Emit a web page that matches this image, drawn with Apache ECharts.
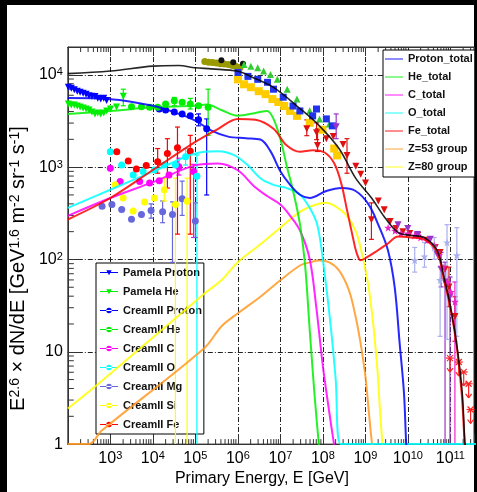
<!DOCTYPE html>
<html>
<head>
<meta charset="utf-8">
<title>Cosmic ray all-particle spectrum</title>
<script src="https://cdn.jsdelivr.net/npm/echarts@6.0.0/dist/echarts.min.js"></script>
<style>
  html, body { margin: 0; padding: 0; background: #000; }
  #paper { position: absolute; left: 7px; top: 5px; width: 467px; height: 487px; background: #fff; }
  #chart { position: absolute; left: 0; top: 0; width: 477px; height: 492px; }
</style>
</head>
<body>
<div id="paper"></div>
<div id="chart"></div>
<script>
// axis ranges (GeV, E^2.6 flux)
const X_MIN = 1e2, X_MAX = 3.6e11, Y_MIN = 1, Y_MAX = 2e4
const xDecades = [1e2, 1e3, 1e4, 1e5, 1e6, 1e7, 1e8, 1e9, 1e10, 1e11]
const yDecades = [1, 10, 100, 1000, 10000]
const minorSteps = [2, 3, 4, 5, 6, 7, 8, 9]

// model curves
const protonTotal = [[1e2, 5590], [1e3, 5450], [1e4, 4620], [4.1e4, 3770], [1e5, 3190], [2.4e5, 2480], [5.9e5, 2140], [1.55e6, 2060], [3.4e6, 1990], [5.9e6, 1480], [1e7, 900], [1.7e7, 643], [2.9e7, 502], [4.9e7, 463], [1.2e8, 551], [2.8e8, 593], [5.9e8, 551], [1.2e9, 393], [2.0e9, 240], [3.4e9, 126], [4.9e9, 50], [6.4e9, 12.5], [8.1e9, 3.6], [9.1e9, 1.06], [9.6e9, 0.8]]
const heTotal = [[1e2, 3770], [1e3, 4060], [1e4, 4440], [9.8e4, 4620], [1.85e5, 4760], [4.1e5, 4160], [1e6, 3610], [2.6e6, 3860], [4.9e6, 4060], [6.9e6, 3330], [1e7, 2030], [1.4e7, 1050], [2.0e7, 551], [2.9e7, 240], [3.8e7, 89.5], [4.9e7, 17.5], [6.4e7, 3.35], [8.1e7, 0.97], [8.6e7, 0.8]]
const cTotal = [[1e2, 297], [1e3, 463], [1e4, 687], [1e5, 1045], [3.45e5, 1097], [1e6, 925], [2.4e6, 622], [4.9e6, 486], [1e7, 393], [1.7e7, 297], [2.9e7, 206], [4.9e7, 101], [7e7, 30.7], [9.8e7, 7.6], [1.42e8, 2.2], [1.85e8, 0.97], [2e8, 0.8]]
const oTotal = [[1e2, 362], [1e3, 569], [1e4, 895], [1e5, 1406], [3.45e5, 1487], [8.2e5, 1348], [1.7e6, 1052], [3.4e6, 758], [6.9e6, 643], [1.42e7, 593], [2.9e7, 503], [4.9e7, 362], [7.5e7, 232], [1.09e8, 73], [1.56e8, 17.5], [2.0e8, 5.1], [2.65e8, 1.0], [1e12, 1.0]]
const feTotal = [[1e2, 271], [1e3, 463], [1e4, 931], [1e5, 1876], [3.45e5, 2600], [1e6, 3330], [2.6e6, 3250], [6.9e6, 2600], [1.4e7, 1725], [2.9e7, 1465], [5.8e7, 1525], [1.1e8, 1440], [1.85e8, 1100], [2.7e8, 671], [3.7e8, 344], [5.1e8, 173], [6.3e8, 116], [7.8e8, 98], [1.07e9, 105], [1.8e9, 122], [3.4e9, 149], [5.9e9, 177], [1.17e10, 173], [2.4e10, 165], [4.9e10, 119], [7e10, 61], [9.8e10, 31.5], [1.4e11, 11.8], [1.86e11, 3.4], [2.2e11, 0.8]]
const z53Group = [[1e2, 1], [3.1e2, 1], [6.4e2, 1.41], [1.64e5, 11.0], [4.1e5, 18.8], [1e6, 26.1], [3.4e6, 39.4], [1e7, 59.4], [2.9e7, 86], [4.9e7, 93], [8.4e7, 97.3], [1.42e8, 93], [2.4e8, 76], [4.1e8, 46.5], [5.9e8, 24], [7.7e8, 12.5], [1e9, 5.5], [1.19e9, 2.41], [1.42e9, 1.06], [1.6e9, 0.8]]
const z80Group = [[1e2, 2.43], [2.4e2, 3.35], [5.6e2, 4.61], [1.64e5, 42.7], [4.1e5, 59.4], [1e6, 93.3], [3.4e6, 146], [1e7, 221], [2.9e7, 328], [7e7, 393], [1.19e8, 410], [2.06e8, 371], [3.45e8, 307], [5.9e8, 204], [8.3e8, 115], [1.19e9, 50.4], [1.55e9, 18.8], [1.92e9, 6.46], [2.2e9, 2.41], [2.5e9, 1.06], [2.7e9, 0.8]]
const allTotal = [[1e2, 10300], [1e3, 11000], [1e4, 12400], [4.1e4, 12600], [9.8e4, 11900], [2.4e5, 11600], [1e6, 10900], [2.0e6, 9600], [6.9e6, 7300], [2.9e7, 4300], [8.3e7, 2800], [2.4e8, 1590], [5.9e8, 760], [1.4e9, 463], [2.9e9, 283], [5.9e9, 196], [1.2e10, 182], [2.4e10, 173], [4.9e10, 125], [7.1e10, 64], [9.8e10, 33], [1.4e11, 12.4], [1.9e11, 3.6], [2.2e11, 1.05], [2.4e11, 0.8]]

// direct measurements [E, flux]; error bars [E, low, high]
const pamelaP = [[103, 7330], [121, 7160], [142, 6900], [167, 6640], [195, 6490], [229, 6320], [269, 6170], [315, 5940], [370, 5870], [434, 5810], [508, 5580], [596, 5460], [700, 5580], [820, 5260]]
const pamelaHe = [[103, 4820], [121, 4700], [142, 4700], [167, 4590], [195, 4480], [229, 4370], [269, 4260], [315, 4160], [370, 3960], [434, 3770], [508, 3860], [596, 3770], [700, 3860], [820, 4060], [1010, 4260], [1400, 4480], [2020, 5870]]
const pamelaHeErr = [[2020, 4620, 6980]]
const creamP = [[1.42e4, 4260], [2.0e4, 4160], [3.2e4, 3960], [4.9e4, 3770], [7.6e4, 3590], [1.19e5, 3250], [1.85e5, 2610]]
const creamPErr = [[1.19e5, 2800, 3770], [1.85e5, 499, 3330]]
const creamHe = [[3.15e3, 4510], [5.4e3, 4510], [8.4e3, 4440], [1.3e4, 4440], [2.0e4, 4820], [3.2e4, 5230], [4.9e4, 5030], [7.6e4, 4820], [1.19e5, 4620], [2.0e5, 4440]]
const creamHeErr = [[3.2e4, 4620, 5690], [7.6e4, 4260, 5550], [2.0e5, 2210, 6980]]
const creamC = [[1e3, 971], [1.7e3, 700], [4.9e3, 700], [8.4e3, 671], [1.42e4, 710], [2.4e4, 823], [4.1e4, 1012], [9.1e4, 895]]
const creamCErr = [[4.1e4, 820, 1250], [9.1e4, 173, 1071]]
const creamO = [[1e3, 1466], [1.85e3, 1053], [3.45e3, 823], [5.9e3, 895], [1.09e4, 931], [1.85e4, 1053], [3.4e4, 1053], [5.9e4, 1295], [1.09e5, 797]]
const creamOErr = [[5.9e4, 1053, 1589], [1.09e5, 0.5, 1353]]
const creamMg = [[640, 378], [1090, 393], [1850, 347], [3150, 272], [5400, 307], [9100, 339], [1.7e4, 328], [2.9e4, 307], [4.9e4, 455], [1e5, 261]]
const creamMgErr = [[9100, 280, 400], [1.7e4, 250, 430], [2.9e4, 93, 420], [4.9e4, 300, 705], [1e5, 173, 410]]
const creamSi = [[1.3e3, 643], [2.0e3, 463], [3.45e3, 334], [6.4e3, 420], [1.09e4, 463], [1.86e4, 569], [3.4e4, 393], [6.4e4, 427]]
const creamSiErr = [[1.86e4, 430, 759], [3.4e4, 0.5, 759], [6.4e4, 0.5, 759]]
const creamFe = [[1.42e3, 1466], [2.64e3, 1162], [4.1e3, 955], [7e3, 1038], [1.3e4, 1145], [2.2e4, 1406], [3.8e4, 1618], [7.6e4, 1487]]
const creamFeErr = [[1.3e4, 859, 1589], [2.2e4, 593, 2032], [3.8e4, 188, 2716], [7.6e4, 188, 2208]]

// air shower data
const oliveDots = [[1.67e5, 13900], [2.06e5, 13700], [2.55e5, 13600], [3.15e5, 13400], [3.9e5, 13200], [4.8e5, 13100], [6.0e5, 12900], [7.4e5, 12600], [9.1e5, 12300], [1.13e6, 12000]]
const blackDots = [[4.1e5, 14400], [7.8e5, 13700], [1.32e6, 13200]]
const greenTri = [[1.40e6, 12900], [2.03e6, 12400], [2.94e6, 11900], [4.05e6, 11000], [5.86e6, 10100], [8.5e6, 8930], [1.45e7, 6980], [2.46e7, 5460], [4.91e7, 4090], [8.36e7, 3330], [1.42e8, 2940]]
const blueSq = [[1.01e6, 10600], [1.73e6, 9610], [2.94e6, 8930], [5.0e6, 8290], [6.9e6, 6980], [1.17e7, 5720], [1.99e7, 4590], [2.88e7, 4060], [5.75e7, 3590], [7.1e7, 4260], [1.21e8, 3330], [1.67e8, 2800]]
const yellowSq = [[1.01e6, 8930], [1.40e6, 7890], [2.03e6, 7330], [3.1e6, 6640], [4.5e6, 6170], [6.5e6, 5460], [8.97e6, 5070], [1.23e7, 4590], [1.70e7, 4060], [2.46e7, 3590], [4.91e7, 3020], [9.8e7, 2540], [1.85e8, 1590], [2.17e8, 1340]]
const redTri = [[4.19e7, 2600], [7.13e7, 2360], [7.5e7, 1711], [1.21e8, 2033], [1.76e8, 2140], [2.99e8, 1754], [3.7e8, 1337], [5.97e8, 1020], [7.78e8, 837], [1.01e9, 671], [1.39e9, 269], [2.02e9, 430], [2.78e9, 345], [3.83e9, 257], [5.26e9, 216], [7.63e9, 200], [1.11e10, 191], [1.69e10, 182], [2.88e10, 161], [4.40e10, 135], [5.74e10, 119], [7.49e10, 78.5], [9.27e10, 50.4], [1.28e11, 24.1]]
const redTriErr = [[4.19e7, 2190, 3250], [7.13e7, 1985, 3020], [7.5e7, 1477, 2600], [3.7e8, 859, 2033], [1.39e9, 165, 410], [9.27e10, 30.8, 82.5], [1.28e11, 13.0, 39.4]]
const purpleTri = [[2.06e8, 2735], [5.86e9, 238], [9.95e9, 216], [1.69e10, 186], [3.38e10, 165], [4.9e10, 114], [6.06e10, 78.5], [7.5e10, 57], [9.8e10, 39.4]]
const purpleErr = [[2.06e8, 2033, 3767], [6.06e10, 50.4, 119], [7.5e10, 0.5, 93.3], [9.8e10, 0.5, 64.5]]
const magStar = [[3.44e9, 221], [5.0e9, 205], [6.88e9, 191], [9.95e9, 191], [1.45e10, 182], [1.99e10, 173], [2.88e10, 161], [4.18e10, 142], [5.45e10, 111], [6.74e10, 82.5], [8.34e10, 57], [1.03e11, 44.5], [1.28e11, 34.8]]
const magErr = [[1.28e11, 0.5, 57]]
const lavender = [[1.45e10, 98], [2.46e10, 108], [4.18e10, 135], [5.74e10, 59.9], [8.34e10, 153], [1.42e11, 111]]
const lavErr = [[1.45e10, 72.9, 135], [2.46e10, 82.5, 153], [4.18e10, 100.5, 173], [5.74e10, 14.7, 82.5], [8.34e10, 13.6, 238], [1.42e11, 14.7, 221]]
const redLimits = [[9.8e10, 8.54], [1.58e11, 7.74], [2.06e11, 6.05], [2.69e11, 4.50], [2.99e11, 2.37]]

const FONT = 'Liberation Sans, Arial, Helvetica, sans-serif'
const xMinor = []
xDecades.forEach(d => minorSteps.forEach(m => { if (d * m < X_MAX) xMinor.push(d * m) }))
const yMinor = []
yDecades.forEach(d => minorSteps.forEach(m => { if (d * m < Y_MAX) yMinor.push(d * m) }))

const triDown = 'path://M0,0L10,0L5,9Z'
const star = 'path://M0,-5L1.2,-1.6L4.8,-1.6L1.9,0.6L2.9,4L0,2L-2.9,4L-1.9,0.6L-4.8,-1.6L-1.2,-1.6Z'
const lineIcon = 'path://M0,0L0,0M0,9h40v2h-40zM40,20L40,20'
const dotIcon = 'path://M0,0L0,0M0,9h40v2h-40zM14,10a6,6 0 1,0 12,0a6,6 0 1,0 -12,0zM40,20L40,20'
const triIcon = 'path://M0,0L0,0M0,9h40v2h-40zM14,5h12l-6,11zM40,20L40,20'

function powLabel(v, hideAt) {
  const p = Math.round(Math.log10(v) * 1000) / 1000
  if (!Number.isInteger(p) || p === hideAt) return ''
  if (p === 0) return '1'
  if (p === 1) return '10'
  return '10{s|' + p + '}'
}

function tickSeries(values, axis, len) {
  return {
    type: 'custom', silent: true, z: 3,
    data: values.map(v => axis === 'x' ? [v, Y_MIN] : axis === 'top' ? [v, Y_MAX] : [X_MIN, v]),
    encode: { x: 0, y: 1 },
    renderItem(params, api) {
      const p = api.coord([api.value(0), api.value(1)])
      const q = axis === 'x' ? [p[0], p[1] - len] : axis === 'top' ? [p[0], p[1] + len] : [p[0] + len, p[1]]
      return { type: 'line', shape: { x1: p[0], y1: p[1], x2: q[0], y2: q[1] }, style: { stroke: '#333', lineWidth: 1 } }
    }
  }
}

function errSeries(data, color) {
  return {
    type: 'custom', silent: true, z: 4, clip: true,
    itemStyle: { color: color },
    data: data,
    encode: { x: 0, y: [1, 2] },
    renderItem(params, api) {
      const lo = api.coord([api.value(0), api.value(1)])
      const hi = api.coord([api.value(0), api.value(2)])
      const st = { stroke: color, lineWidth: 1.2 }
      return {
        type: 'group', children: [
          { type: 'line', shape: { x1: lo[0], y1: lo[1], x2: hi[0], y2: hi[1] }, style: st },
          { type: 'line', shape: { x1: lo[0] - 2.5, y1: lo[1], x2: lo[0] + 2.5, y2: lo[1] }, style: st },
          { type: 'line', shape: { x1: hi[0] - 2.5, y1: hi[1], x2: hi[0] + 2.5, y2: hi[1] }, style: st }
        ]
      }
    }
  }
}

function limitSeries(data, color) {
  return {
    type: 'custom', silent: true, z: 4, clip: true,
    data: data,
    encode: { x: 0, y: 1 },
    renderItem(params, api) {
      const p = api.coord([api.value(0), api.value(1)])
      const st = { stroke: color, lineWidth: 1.2 }
      return {
        type: 'group', children: [
          { type: 'line', shape: { x1: p[0], y1: p[1], x2: p[0], y2: p[1] + 14 }, style: st },
          { type: 'line', shape: { x1: p[0] - 3, y1: p[1] + 10, x2: p[0], y2: p[1] + 14 }, style: st },
          { type: 'line', shape: { x1: p[0] + 3, y1: p[1] + 10, x2: p[0], y2: p[1] + 14 }, style: st },
          { type: 'line', shape: { x1: p[0] - 4, y1: p[1], x2: p[0] + 4, y2: p[1] }, style: st },
          { type: 'line', shape: { x1: p[0] - 3, y1: p[1] - 3, x2: p[0] + 3, y2: p[1] + 3 }, style: st },
          { type: 'line', shape: { x1: p[0] + 3, y1: p[1] - 3, x2: p[0] - 3, y2: p[1] + 3 }, style: st }
        ]
      }
    }
  }
}

function points(name, data, color, symbol, size, opacity) {
  return {
    name: name, type: 'scatter', data: data, z: 5,
    symbol: symbol, symbolSize: size,
    itemStyle: { color: color, opacity: opacity == null ? 1 : opacity }
  }
}

function curve(name, data, color, width) {
  return {
    name: name, type: 'line', data: data, z: 8,
    smooth: 0.35, showSymbol: false, symbol: 'none',
    color: color,
    lineStyle: { color: color, width: width || 2, opacity: 0.85 }
  }
}

const chart = echarts.init(document.getElementById('chart'), null, { renderer: 'canvas' })

chart.setOption({
  backgroundColor: 'transparent',
  animation: false,
  grid: { left: 63, top: 47, right: 0, bottom: 43, show: true, borderColor: '#333', borderWidth: 1, backgroundColor: 'transparent' },
  xAxis: [
    {
      type: 'log', min: X_MIN, max: X_MAX, logBase: 10, splitNumber: 10,
      name: 'Primary Energy, E [GeV]', nameLocation: 'middle', nameGap: 20,
      nameTextStyle: { fontFamily: FONT, fontSize: 16, color: '#000', padding: [0, 18, 0, 0] },
      axisLine: { lineStyle: { color: '#333' } },
      axisTick: { inside: true, length: 10, lineStyle: { color: '#333' } },
      axisLabel: {
        margin: 6, fontFamily: FONT, fontSize: 16, color: '#000',
        formatter: v => powLabel(v, 2),
        rich: { s: { fontFamily: FONT, fontSize: 11, color: '#000', verticalAlign: 'top' } }
      },
      splitLine: { show: true, showMinLine: false, showMaxLine: false, lineStyle: { color: '#222', type: [5, 2, 1, 2], width: 1 } }
    },
    {
      type: 'log', min: X_MIN, max: X_MAX, logBase: 10, splitNumber: 10, position: 'top',
      axisLine: { lineStyle: { color: '#333' } },
      axisTick: { inside: true, length: 9, lineStyle: { color: '#333' } },
      axisLabel: { show: false },
      splitLine: { show: false }
    }
  ],
  yAxis: {
    type: 'log', min: Y_MIN, max: Y_MAX, logBase: 10, splitNumber: 5,
    name: 'E{s|2.6} × dN/dE [GeV{s|1.6} m{s|-2} sr{s|-1} s{s|-1}]',
    nameLocation: 'middle', nameRotate: 90, nameGap: 27,
    nameTextStyle: {
      fontFamily: FONT, fontSize: 20, color: '#000', padding: [0, 46, 0, 0],
      rich: { s: { fontFamily: FONT, fontSize: 14, color: '#000', verticalAlign: 'top' } }
    },
    axisLine: { lineStyle: { color: '#333' } },
    axisTick: { inside: true, length: 12, lineStyle: { color: '#333' } },
    axisLabel: {
      margin: 5, fontFamily: FONT, fontSize: 16, color: '#000',
      formatter: v => powLabel(v, null),
      rich: { s: { fontFamily: FONT, fontSize: 11, color: '#000', verticalAlign: 'top' } }
    },
    splitLine: { show: true, showMinLine: false, showMaxLine: false, lineStyle: { color: '#222', type: [5, 2, 1, 2], width: 1 } }
  },
  legend: [
    {
      left: 383, top: 50, orient: 'vertical', selectedMode: false,
      backgroundColor: '#fff', borderColor: '#000', borderWidth: 1, borderRadius: 0,
      padding: [2, 2, 3, 2], itemGap: 4, itemWidth: 18, itemHeight: 10,
      itemStyle: { borderWidth: 0 },
      textStyle: { fontFamily: FONT, fontSize: 11, fontWeight: 'bold', color: '#111', lineHeight: 14 },
      data: ['Proton_total', 'He_total', 'C_total', 'O_total', 'Fe_total', 'Z=53 group', 'Z=80 group'].map(n => ({ name: n, icon: lineIcon }))
    },
    {
      left: 96, top: 263, orient: 'vertical', selectedMode: false,
      backgroundColor: '#fff', borderColor: '#000', borderWidth: 1, borderRadius: 0,
      padding: [2, 2, 2, 4], itemGap: 4, itemWidth: 18, itemHeight: 10,
      itemStyle: { borderWidth: 0 },
      textStyle: { fontFamily: FONT, fontSize: 11, fontWeight: 'bold', color: '#111', lineHeight: 15 },
      data: [
        { name: 'Pamela Proton', icon: triIcon },
        { name: 'Pamela He', icon: triIcon },
        { name: 'CreamII Proton', icon: dotIcon },
        { name: 'CreamII He', icon: dotIcon },
        { name: 'CreamII C', icon: dotIcon },
        { name: 'CreamII O', icon: dotIcon },
        { name: 'CreamII Mg', icon: dotIcon },
        { name: 'CreamII Si', icon: dotIcon },
        { name: 'CreamII Fe', icon: dotIcon }
      ]
    }
  ],
  series: [
    tickSeries(xMinor, 'x', 5),
    tickSeries(xMinor, 'top', 5),
    tickSeries(yMinor, 'y', 6),

    errSeries(pamelaHeErr, '#00ee00'),
    errSeries(creamPErr, '#0000ff'),
    errSeries(creamHeErr, '#00ee00'),
    errSeries(creamCErr, '#ff00ff'),
    errSeries(creamOErr, '#00ffff'),
    errSeries(creamMgErr, '#6666dd'),
    errSeries(creamSiErr, '#ffff00'),
    errSeries(creamFeErr, '#ff0000'),
    errSeries(redTriErr, '#dd1111'),
    errSeries(purpleErr, '#9933cc'),
    errSeries(magErr, '#ee22cc'),
    errSeries(lavErr, '#aab0ee'),
    limitSeries(redLimits, '#ff2222'),

    points('olive', oliveDots, '#999900', 'circle', 7),
    points('black', blackDots, '#111', 'circle', 6),
    points('yellowSq', yellowSq, '#ffcc00', 'rect', 8),
    points('greenTri', greenTri, '#33cc33', 'triangle', 7),
    points('blueSq', blueSq, '#2233ee', 'rect', 7),
    points('redTri', redTri, '#dd1111', triDown, 7),
    points('purpleTri', purpleTri, '#9933cc', triDown, 7),
    points('magStar', magStar, '#ee22cc', star, 8),
    points('lavender', lavender, '#aab0ee', star, 8),

    points('Pamela Proton', pamelaP, '#0000ff', triDown, 7),
    points('Pamela He', pamelaHe, '#00ee00', triDown, 7),
    points('CreamII Proton', creamP, '#0000ff', 'circle', 7),
    points('CreamII He', creamHe, '#00ee00', 'circle', 7),
    points('CreamII C', creamC, '#ff00ff', 'circle', 7),
    points('CreamII O', creamO, '#00ffff', 'circle', 7),
    points('CreamII Mg', creamMg, '#6666dd', 'circle', 7),
    points('CreamII Si', creamSi, '#ffff00', 'circle', 7),
    points('CreamII Fe', creamFe, '#ff0000', 'circle', 7),

    curve('Z=53 group', z53Group, '#ff9922'),
    curve('Z=80 group', z80Group, '#ffff00'),
    curve('C_total', cTotal, '#ff00ff'),
    curve('O_total', oTotal, '#00ffff'),
    curve('He_total', heTotal, '#00ee00'),
    curve('Proton_total', protonTotal, '#0000ff'),
    curve('Fe_total', feTotal, '#ff0000'),
    Object.assign(curve('total', allTotal, '#000', 1.6), { z: 9 })
  ]
})
</script>
</body>
</html>
